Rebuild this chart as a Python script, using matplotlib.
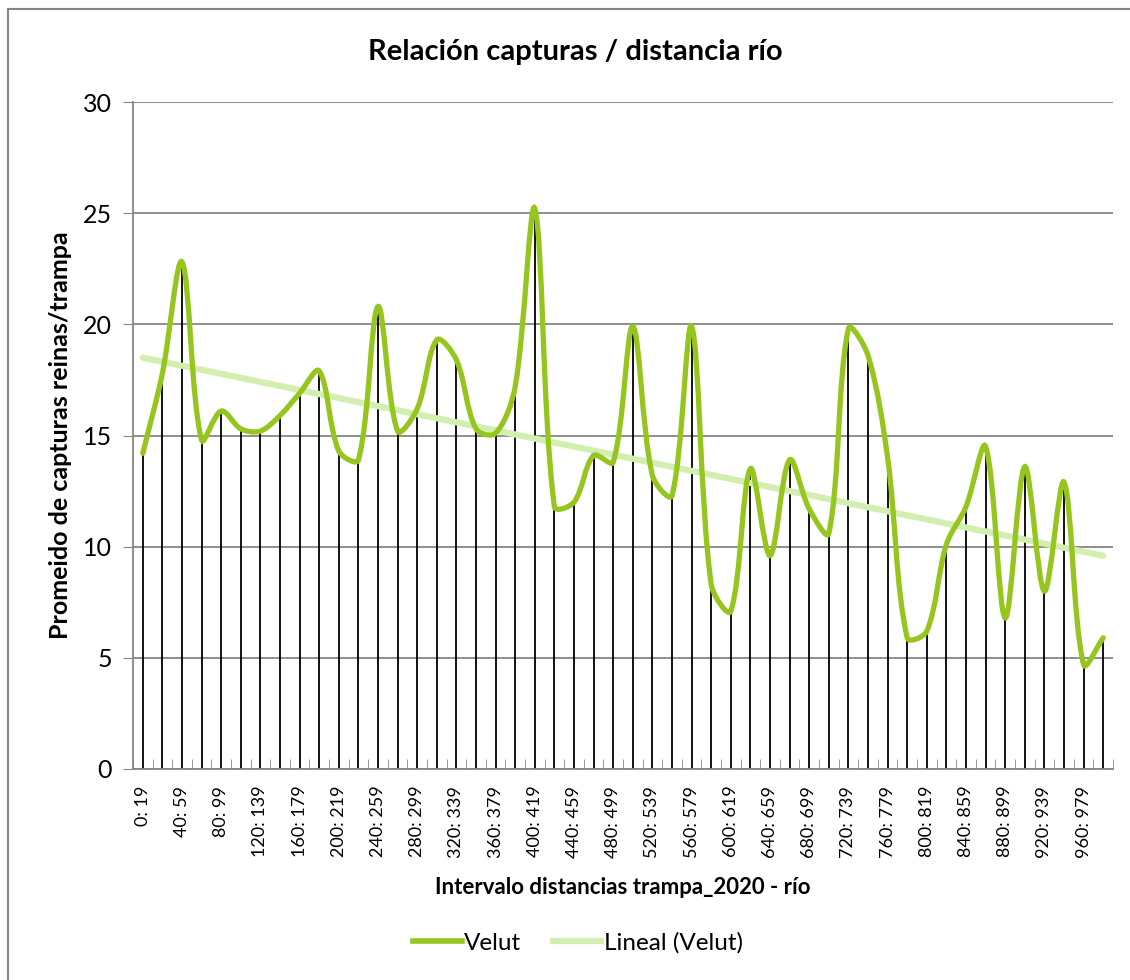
import matplotlib
matplotlib.use("Agg")
import matplotlib.pyplot as plt
from matplotlib.path import Path
from matplotlib.patches import PathPatch, Rectangle
from matplotlib.lines import Line2D
import numpy as np

plt.rcParams['font.family'] = ['Lato', 'DejaVu Sans']

# intervalos de 20 m: 0-19 ... 980-999
interval_starts = list(range(0, 1000, 20))
interval_labels = [f'{s}: {s + 19}' for s in interval_starts]

velut = [14.2, 17.8, 22.8, 14.8, 16.1, 15.3, 15.2, 15.9, 16.9, 17.9,
         14.3, 13.9, 20.8, 15.2, 16.2, 19.3, 18.4, 15.3, 15.1, 17.2,
         25.2, 11.8, 12.0, 14.1, 13.8, 19.9, 13.2, 12.3, 19.9, 8.3,
         7.1, 13.5, 9.6, 13.9, 11.7, 10.6, 19.8, 18.6, 14.0, 5.9,
         6.2, 10.1, 11.8, 14.5, 6.8, 13.6, 8.0, 12.9, 4.7, 5.9]

col_velut = '#95c51e'
col_trend = '#d2efb0'
col_grid = '#868686'


def smooth_path(x, y, sx=19.6, sy=22.2):
    # curva suavizada parecida a la de Excel (bezier con tangentes
    # ponderadas por la longitud de cada tramo en pantalla)
    pts = np.column_stack([x, y]).astype(float)
    scr = pts * [sx, sy]
    n = len(pts)
    d = np.hypot(*np.diff(scr, axis=0).T)
    tang = np.zeros_like(pts)
    tang[0] = pts[1] - pts[0]
    tang[-1] = pts[-1] - pts[-2]
    tang[1:-1] = pts[2:] - pts[:-2]
    verts = [pts[0]]
    codes = [Path.MOVETO]
    for i in range(n - 1):
        fa = 1.0 if i == 0 else d[i] / (d[i - 1] + d[i])
        fb = 1.0 if i == n - 2 else d[i] / (d[i] + d[i + 1])
        c1 = pts[i] + tang[i] * fa / 3
        c2 = pts[i + 1] - tang[i + 1] * fb / 3
        verts += [c1, c2, pts[i + 1]]
        codes += [Path.CURVE4] * 3
    return Path(verts, codes)


x = np.arange(len(velut))
y = np.array(velut)

fig = plt.figure(figsize=(11.3, 9.8), dpi=100)
fig.patches.append(Rectangle((8 / 1130, -0.05), 1.2, 1.05 - 9 / 980,
                             transform=fig.transFigure, fill=False,
                             edgecolor=col_grid, linewidth=1.5))
ax = fig.add_axes([133 / 1130, 1 - 769 / 980, 980 / 1130, 667 / 980])

ax.set_ylim(0, 30)
ax.set_xlim(-0.5, len(velut) - 0.5)
ax.set_yticks(range(0, 31, 5))
ax.yaxis.grid(True, color=col_grid, linewidth=1.3)
ax.set_axisbelow(True)

# lineas de proyeccion
ax.vlines(x, 0, y, color='black', linewidth=1.3, zorder=2)

# tendencia lineal
coef = np.polyfit(x + 1, y, 1)
trend = np.polyval(coef, x + 1)
ax.plot(x, trend, color=col_trend, linewidth=4.5, solid_capstyle='round', zorder=3)

ax.add_patch(PathPatch(smooth_path(x, y), facecolor='none', edgecolor=col_velut,
                       linewidth=3.8, capstyle='round', zorder=4))

for s in ['top', 'right']:
    ax.spines[s].set_visible(False)
ax.spines['left'].set_color(col_grid)
ax.spines['bottom'].set_color(col_grid)
ax.spines['left'].set_linewidth(1.3)
ax.spines['bottom'].set_linewidth(1.3)

ax.set_xticks(x[::2])
ax.set_xticklabels(interval_labels[::2], rotation=90, fontsize=13)
ax.tick_params(axis='x', length=0, pad=12)
ax.set_xticks(np.arange(len(velut) + 1) - 0.5, minor=True)
ax.tick_params(axis='x', which='minor', direction='in', length=7, color=col_grid)
ax.tick_params(axis='y', length=7, color=col_grid, labelsize=18, pad=8)

ax.set_ylabel('Promeido de capturas reinas/trampa', fontsize=18,
              fontweight='bold', labelpad=8)
ax.set_xlabel('Intervalo distancias trampa_2020 - río', fontsize=16,
              fontweight='bold', labelpad=14)
fig.text(575 / 1130, 1 - 52 / 980, 'Relación capturas / distancia río',
         fontsize=21, fontweight='bold', ha='center', va='center')

handles = [Line2D([], [], color=col_velut, linewidth=4),
           Line2D([], [], color=col_trend, linewidth=4.5)]
fig.legend(handles, ['Velut', 'Lineal (Velut)'], loc='center',
           bbox_to_anchor=(578 / 1130, 1 - 943 / 980), ncol=2, frameon=False,
           fontsize=17.5, handlelength=2.0, handletextpad=0.1, columnspacing=1.3)

fig.savefig('out.png', dpi=100)
